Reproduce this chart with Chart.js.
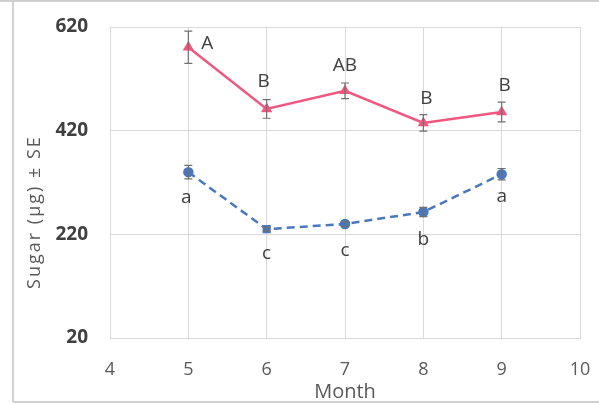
<!DOCTYPE html>
<html>
<head>
<meta charset="utf-8">
<script src="https://cdn.jsdelivr.net/npm/chart.js@4/dist/chart.umd.min.js"></script>
<style>
  html, body { margin: 0; padding: 0; background: #fff; }
  #wrap { width: 599px; height: 404px; }
</style>
</head>
<body>
<div id="wrap"><canvas id="sugarChart" width="599" height="404"></canvas></div>
<script>
// months sampled
const months = [5, 6, 7, 8, 9];

// sugar content (µg) and standard error, upper series
const upperSugar = [581, 462, 497, 435, 456];
const upperSE = [31, 18, 15, 16, 19];
const upperLetters = ['A', 'B', 'AB', 'B', 'B'];

// lower series
const lowerSugar = [340, 230, 240, 263, 336];
const lowerSE = [13, 4, 5, 9, 11];
const lowerLetters = ['a', 'c', 'c', 'b', 'a'];

const yTicks = [20, 220, 420, 620];
const xTicks = [4, 5, 6, 7, 8, 9, 10];

const PINK = '#f0577f';
const BLUE = '#4a78bf';
const GRID = '#d9d9d9';

const toPoints = (ys) => months.map((m, i) => ({ x: m, y: ys[i] }));

// grey frame round the whole figure
const frame = {
  id: 'frame',
  beforeDraw(chart) {
    const c = chart.ctx;
    c.save();
    c.strokeStyle = '#d0d0d0';
    c.lineWidth = 2;
    c.beginPath();
    c.moveTo(0, 1); c.lineTo(599, 1);
    c.moveTo(13, 1); c.lineTo(13, 402);
    c.moveTo(13, 402); c.lineTo(599, 402);
    c.stroke();
    c.restore();
  }
};

// vertical SE bars with caps
const errorBars = {
  id: 'errorBars',
  afterDatasetsDraw(chart) {
    const c = chart.ctx;
    const xs = chart.scales.x, ys = chart.scales.y;
    c.save();
    c.strokeStyle = '#6f6f6f';
    c.lineWidth = 1.2;
    chart.data.datasets.forEach(ds => {
      ds.data.forEach((p, i) => {
        const x = xs.getPixelForValue(p.x);
        const top = ys.getPixelForValue(p.y + ds.se[i]);
        const bot = ys.getPixelForValue(p.y - ds.se[i]);
        c.beginPath();
        c.moveTo(x, top); c.lineTo(x, bot);
        c.moveTo(x - 4, top); c.lineTo(x + 4, top);
        c.moveTo(x - 4, bot); c.lineTo(x + 4, bot);
        c.stroke();
      });
    });
    c.restore();
  }
};

// significance letters next to each point
const letterLabels = {
  id: 'letterLabels',
  afterDatasetsDraw(chart, args, opts) {
    const c = chart.ctx;
    const xs = chart.scales.x, ys = chart.scales.y;
    c.save();
    c.fillStyle = '#404040';
    c.font = '19px "Open Sans"';
    c.textAlign = 'center';
    c.textBaseline = 'middle';
    chart.data.datasets.forEach((ds, d) => {
      const off = opts.offsets[d];
      ds.data.forEach((p, i) => {
        const x = xs.getPixelForValue(p.x) + off[i][0];
        const y = ys.getPixelForValue(p.y) + off[i][1];
        c.fillText(ds.letters[i], x, y);
      });
    });
    c.restore();
  }
};

// rotated y-axis title
const yTitle = {
  id: 'yTitle',
  afterDraw(chart) {
    const c = chart.ctx;
    c.save();
    c.translate(35, 212);
    c.rotate(-Math.PI / 2);
    c.fillStyle = '#595959';
    c.font = '18px "Open Sans"';
    c.letterSpacing = '2px';
    c.textAlign = 'center';
    c.textBaseline = 'middle';
    c.fillText('Sugar (µg) ± SE', 0, 0);
    c.restore();
  }
};

new Chart(document.getElementById('sugarChart'), {
  type: 'scatter',
  data: {
    datasets: [{
      data: toPoints(upperSugar),
      se: upperSE,
      letters: upperLetters,
      showLine: true,
      borderColor: PINK,
      backgroundColor: PINK,
      borderWidth: 2.5,
      pointStyle: 'triangle',
      pointRadius: 4,
      pointHoverRadius: 4
    }, {
      data: toPoints(lowerSugar),
      se: lowerSE,
      letters: lowerLetters,
      showLine: true,
      borderColor: BLUE,
      backgroundColor: BLUE,
      borderWidth: 2.5,
      borderDash: [8, 5],
      pointStyle: ['circle', 'rect', 'circle', 'circle', 'circle'],
      pointRadius: 4,
      pointHoverRadius: 4
    }]
  },
  options: {
    responsive: false,
    animation: false,
    layout: { padding: { left: 0, right: 19, top: 27, bottom: 0 } },
    plugins: {
      legend: { display: false },
      tooltip: { enabled: false },
      letterLabels: {
        offsets: [
          [[19, -4], [-3, -27], [0, -25], [3, -24], [3, -26]],
          [[-2, 25], [0, 24], [0, 27], [0, 28], [0, 22]]
        ]
      }
    },
    scales: {
      x: {
        type: 'linear',
        min: 4,
        max: 10,
        afterBuildTicks: (s) => { s.ticks = xTicks.map(v => ({ value: v })); },
        afterFit: (s) => { s.height = 66; s.paddingLeft = 0; s.paddingRight = 0; },
        grid: { color: GRID, drawTicks: false },
        border: { color: GRID },
        ticks: {
          color: '#595959',
          font: { family: 'Open Sans', size: 18 },
          padding: 21,
          maxRotation: 0
        },
        title: {
          display: true,
          text: 'Month',
          color: '#595959',
          font: { family: 'Open Sans', size: 20 },
          padding: { top: 9, bottom: 0 }
        }
      },
      y: {
        min: 20,
        max: 620,
        afterBuildTicks: (s) => { s.ticks = yTicks.map(v => ({ value: v })); },
        afterFit: (s) => { s.width = 110; s.paddingTop = 0; s.paddingBottom = 0; },
        grid: { color: GRID, drawTicks: false },
        border: { color: GRID },
        ticks: {
          color: '#404040',
          font: { family: 'Open Sans', size: 19, weight: 'bold' },
          padding: 22
        }
      }
    }
  },
  plugins: [frame, errorBars, letterLabels, yTitle]
});
</script>
</body>
</html>
